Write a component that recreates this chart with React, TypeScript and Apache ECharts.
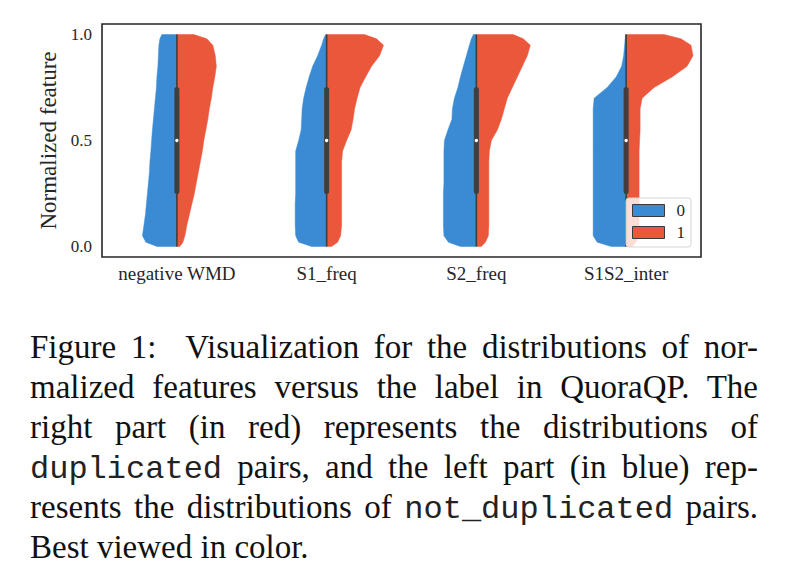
import React, { useEffect, useRef } from "react";
import * as echarts from "echarts";

// ---------- data ----------
const CATEGORIES = ["negative WMD", "S1_freq", "S2_freq", "S1S2_inter"];
const LABELS = ["0", "1"];
const Y_TICKS = [0, 0.5, 1.0];

// feature levels (normalized feature values) at which densities are read
const LEVELS = [0, 0.02, 0.05, 0.1, 0.15, 0.2, 0.25, 0.3, 0.35, 0.4, 0.45, 0.5, 0.55, 0.6, 0.65, 0.7, 0.75, 0.8, 0.85, 0.9, 0.95, 0.98, 1];

// estimated kernel densities (label 0 = not duplicated, label 1 = duplicated)
const NEG_WMD_0 = [2.0, 3.1, 3.45, 3.3, 3.15, 3.05, 2.95, 2.85, 2.75, 2.7, 2.6, 2.53, 2.45, 2.35, 2.25, 2.15, 2.05, 2.0, 1.9, 1.85, 1.8, 1.7, 1.5];
const NEG_WMD_1 = [0.3, 0.6, 0.8, 1.0, 1.25, 1.5, 1.75, 1.95, 2.15, 2.35, 2.55, 2.7, 2.9, 3.1, 3.25, 3.45, 3.6, 3.8, 3.95, 3.85, 3.6, 3.0, 1.7];
const S1_FREQ_0 = [1.5, 2.8, 3.1, 3.15, 3.15, 3.15, 3.1, 3.1, 3.1, 3.1, 3.1, 2.8, 2.55, 2.5, 2.45, 2.3, 2.05, 1.75, 1.4, 0.9, 0.5, 0.3, 0.1];
const S1_FREQ_1 = [0.5, 1.1, 1.4, 1.5, 1.5, 1.5, 1.5, 1.5, 1.5, 1.5, 1.6, 2.0, 2.45, 2.65, 2.8, 3.05, 3.35, 3.9, 4.5, 5.3, 5.7, 5.0, 3.8];
const S2_FREQ_0 = [1.6, 2.8, 3.25, 3.3, 3.3, 3.3, 3.3, 3.25, 3.25, 3.25, 3.25, 3.2, 2.85, 2.45, 2.4, 2.2, 1.85, 1.6, 1.3, 1.0, 0.7, 0.5, 0.3];
const S2_FREQ_1 = [0.5, 0.9, 1.2, 1.25, 1.25, 1.25, 1.25, 1.25, 1.25, 1.25, 1.3, 1.5, 2.1, 2.5, 2.8, 3.1, 3.6, 4.1, 4.6, 5.1, 5.4, 4.7, 3.7];
const S1S2_INTER_0 = [1.5, 2.9, 3.3, 3.3, 3.3, 3.3, 3.3, 3.3, 3.3, 3.3, 3.3, 3.3, 3.3, 3.3, 3.3, 3.2, 1.9, 1.0, 0.45, 0.25, 0.15, 0.1, 0.05];
const S1S2_INTER_1 = [0.6, 1.0, 1.25, 1.3, 1.3, 1.3, 1.3, 1.3, 1.3, 1.3, 1.3, 1.35, 1.4, 1.4, 1.4, 1.6, 2.8, 4.6, 6.1, 6.7, 6.5, 5.5, 3.8];

// inner box statistics
const WHISKER_LOW = [0, 0, 0, 0];
const Q1 = [0.25, 0.25, 0.25, 0.25];
const MEDIAN = [0.5, 0.5, 0.5, 0.5];
const Q3 = [0.75, 0.75, 0.75, 0.75];
const WHISKER_HIGH = [1, 1, 1, 1];

const DENSITY_0 = [NEG_WMD_0, S1_FREQ_0, S2_FREQ_0, S1S2_INTER_0];
const DENSITY_1 = [NEG_WMD_1, S1_FREQ_1, S2_FREQ_1, S1S2_INTER_1];

// ---------- styles ----------
const BLUE = "#3a8ad4";
const RED = "#eb573b";
const DARK = "#262626";
const SERIF = "'Liberation Serif', 'Times New Roman', serif";
const MONO = "'Liberation Mono', 'DejaVu Sans Mono', monospace";

function halfRenderer(densities: number[][], side: number, color: string) {
  return (params: any, api: any) => {
    const ci = api.value(0);
    const d = densities[ci];
    const band = api.size([1, 0])[0];
    const scale = band / 15;
    const top = api.coord([ci, LEVELS[LEVELS.length - 1]]);
    const bottom = api.coord([ci, LEVELS[0]]);
    const cx = top[0];
    const pts: number[][] = [[cx, top[1]]];
    for (let k = LEVELS.length - 1; k >= 0; k--) {
      const p = api.coord([ci, LEVELS[k]]);
      pts.push([cx + side * d[k] * scale, p[1]]);
    }
    pts.push([cx, bottom[1]]);
    return {
      type: "polygon",
      shape: { points: pts },
      style: { fill: color, stroke: color, lineWidth: 0.5 },
    };
  };
}

function boxRenderer(params: any, api: any) {
  const ci = api.value(0);
  const lo = api.coord([ci, WHISKER_LOW[ci]]);
  const hi = api.coord([ci, WHISKER_HIGH[ci]]);
  const q1 = api.coord([ci, Q1[ci]]);
  const q3 = api.coord([ci, Q3[ci]]);
  const md = api.coord([ci, MEDIAN[ci]]);
  return {
    type: "group",
    children: [
      {
        type: "line",
        shape: { x1: lo[0], y1: lo[1], x2: hi[0], y2: hi[1] },
        style: { stroke: "#3f3f3f", lineWidth: 1.6 },
      },
      {
        type: "line",
        shape: { x1: q1[0], y1: q1[1] - 2, x2: q3[0], y2: q3[1] + 2 },
        style: { stroke: "#3f3f3f", lineWidth: 5, lineCap: "round" },
      },
      {
        type: "circle",
        shape: { cx: md[0], cy: md[1], r: 1.7 },
        style: { fill: "#ffffff" },
      },
    ],
  };
}

function ChartView() {
  const ref = useRef<HTMLDivElement>(null);
  useEffect(() => {
    if (!ref.current) return;
    const chart = echarts.init(ref.current, null, { renderer: "svg" });
    const seriesData = CATEGORIES.map((_, i) => [i, MEDIAN[i]]);
    chart.setOption({
      animation: false,
      grid: {
        left: 102,
        top: 24,
        width: 599,
        height: 233,
        show: true,
        borderColor: DARK,
        borderWidth: 1.6,
        backgroundColor: "transparent",
      },
      legend: {
        orient: "vertical",
        left: 626,
        top: 198,
        itemWidth: 32,
        itemHeight: 12,
        itemGap: 5,
        padding: [4, 6, 6, 6],
        backgroundColor: "rgba(255,255,255,0.8)",
        borderColor: "#d6d6d6",
        borderWidth: 1,
        borderRadius: 3,
        textStyle: { fontFamily: SERIF, fontSize: 17, color: DARK, padding: [0, 0, 0, 7] },
        data: [
          { name: LABELS[0], icon: "rect", itemStyle: { color: BLUE, borderColor: "#3a3a3a", borderWidth: 1 } },
          { name: LABELS[1], icon: "rect", itemStyle: { color: RED, borderColor: "#3a3a3a", borderWidth: 1 } },
        ],
      },
      xAxis: {
        type: "category",
        data: CATEGORIES,
        axisLine: { show: false },
        axisTick: { show: false },
        splitLine: { show: false },
        axisLabel: { interval: 0, fontFamily: SERIF, fontSize: 19, color: DARK, margin: 7 },
      },
      yAxis: {
        type: "value",
        min: -0.05,
        max: 1.05,
        name: "Normalized feature",
        nameLocation: "middle",
        nameRotate: 90,
        nameGap: 40,
        nameTextStyle: { fontFamily: SERIF, fontSize: 23, color: DARK },
        axisLine: { show: false },
        axisTick: { show: false },
        splitLine: { show: false },
        axisLabel: {
          customValues: Y_TICKS,
          formatter: (v: number) => v.toFixed(1),
          fontFamily: SERIF,
          fontSize: 17,
          color: DARK,
          margin: 10,
        },
      },
      series: [
        {
          name: LABELS[0],
          type: "custom",
          data: seriesData,
          encode: { x: 0, y: 1 },
          itemStyle: { color: BLUE },
          renderItem: halfRenderer(DENSITY_0, -1, BLUE),
          z: 2,
        },
        {
          name: LABELS[1],
          type: "custom",
          data: seriesData,
          encode: { x: 0, y: 1 },
          itemStyle: { color: RED },
          renderItem: halfRenderer(DENSITY_1, 1, RED),
          z: 2,
        },
        {
          name: "box",
          type: "custom",
          data: seriesData,
          encode: { x: 0, y: 1 },
          renderItem: boxRenderer,
          z: 3,
        },
      ],
    });
    return () => chart.dispose();
  }, []);
  return <div ref={ref} style={{ position: "absolute", left: 0, top: 0, width: 787, height: 300 }} />;
}

function Caption() {
  const lineStyle: React.CSSProperties = { textAlign: "justify", textAlignLast: "justify", height: 40, overflow: "visible" };
  const mono: React.CSSProperties = { fontFamily: MONO, fontSize: 32, lineHeight: "1", color: "#222" };
  return (
    <div
      style={{
        position: "absolute",
        left: 30,
        top: 327,
        width: 728,
        fontFamily: SERIF,
        fontSize: 33,
        lineHeight: "40px",
        color: "#111",
      }}
    >
      <div style={lineStyle}>Figure 1:&nbsp; Visualization for the distributions of nor-</div>
      <div style={lineStyle}>malized features versus the label in QuoraQP. The</div>
      <div style={lineStyle}>right part (in red) represents the distributions of</div>
      <div style={lineStyle}>
        <span style={mono}>duplicated</span> pairs, and the left part (in blue) rep-
      </div>
      <div style={lineStyle}>
        resents the distributions of <span style={mono}>not_duplicated</span> pairs.
      </div>
      <div style={{ height: 40 }}>Best viewed in color.</div>
    </div>
  );
}

export default function App() {
  return (
    <div style={{ position: "fixed", left: 0, top: 0, width: 787, height: 581, background: "#fff", overflow: "hidden" }}>
      <ChartView />
      <Caption />
    </div>
  );
}
